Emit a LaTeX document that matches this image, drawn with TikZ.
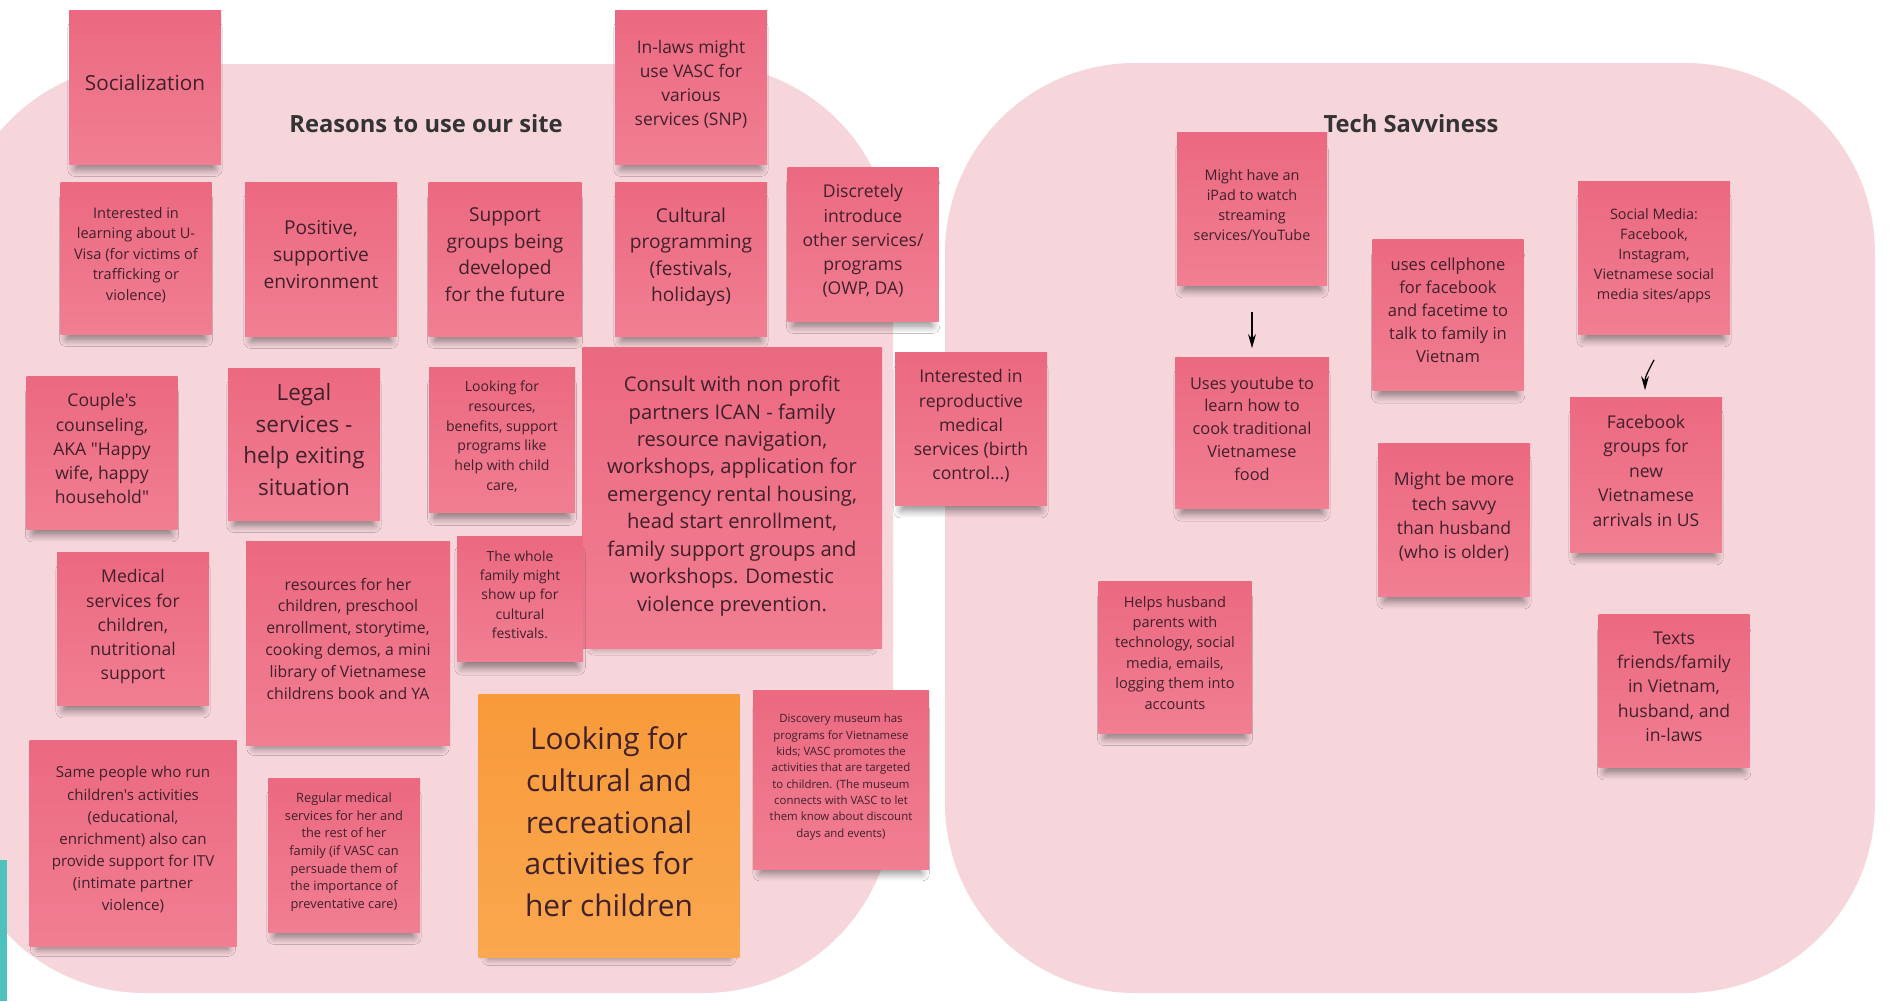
\documentclass[tikz,border=0pt]{standalone}
\usepackage{fontspec}
\setmainfont{Open Sans}[Ligatures=TeXOff]
\usetikzlibrary{calc,arrows.meta,shadows.blur}

\definecolor{boardpink}{HTML}{F6D6DB}
\definecolor{notetop}{HTML}{EB6981}
\definecolor{notebot}{HTML}{F17E92}
\definecolor{orangetop}{HTML}{F89A3A}
\definecolor{orangebot}{HTML}{FAA74F}
\definecolor{notetext}{HTML}{40202A}
\definecolor{titlegray}{HTML}{333333}
\definecolor{sidebar}{HTML}{4FC1BC}

\begin{document}
\begin{tikzpicture}[
    x=0.2mm, y=-0.2mm,
    note/.style={rectangle, inner sep=0pt, align=center, text=notetext, text depth=5pt,
        top color=notetop, bottom color=notebot,
        blur shadow={shadow xshift=0pt, shadow yshift=-7pt, shadow scale=0.92,
            shadow opacity=45, shadow blur radius=4.5pt, shadow blur steps=8}},
    orangenote/.style={note, top color=orangetop, bottom color=orangebot},
    wh/.style 2 args={minimum width=#1*0.2mm, minimum height=#2*0.2mm},
    fs/.style 2 args={font=\fontsize{#1}{#2}\selectfont},
    title/.style={font=\fontsize{13.5}{16}\selectfont\bfseries, text=titlegray},
    link/.style={->, line width=0.7pt, black},
    >={Stealth[length=8pt, width=4.5pt]}
]
\useasboundingbox (0,0) rectangle (1902,1001);
\fill[white] (0,0) rectangle (1902,1001);

% Boards
\fill[boardpink, rounded corners=38mm] (-45,64) rectangle (893,993);
\fill[boardpink, rounded corners=38mm] (945,63) rectangle (1875,993);
\fill[sidebar] (0,860) rectangle (7,1001);

% Titles
\node[title] (reasons) at (426,124) {Reasons to use our site};
\node[title] (tech) at (1411,124) {Tech Savviness};

% Reasons to use our site
\node[note, wh={152}{154}, fs={11.8}{16}] (socialization) at (145,87) {Socialization};
\node[note, wh={152}{154}, fs={9.9}{13.7}] (inlaws) at (691,87) {In-laws might\\use VASC for\\various\\services (SNP)};

\node[note, wh={151}{152}, fs={8.3}{11.7}] (uvisa) at (136,258) {Interested in\\learning about U-\\Visa (for victims of\\trafficking or\\violence)};
\node[note, wh={152}{154}, fs={10.9}{15.2}] (positive) at (321,259) {Positive,\\supportive\\environment};
\node[note, wh={153}{154}, fs={10.9}{15.2}] (support) at (505,259) {Support\\groups being\\developed\\for the future};
\node[note, wh={152}{154}, fs={10.9}{15}] (cultural) at (691,259) {Cultural\\programming\\(festivals,\\holidays)};
\node[note, wh={151}{154}, fs={10}{13.8}] (discrete) at (863,244) {Discretely\\introduce\\other services/\\programs\\(OWP, DA)};

\node[note, wh={151}{153}, fs={10}{13.8}] (couple) at (102,453) {Couple's\\counseling,\\AKA "Happy\\wife, happy\\household"};
\node[note, wh={152}{152}, fs={12.8}{18}] (legal) at (304,444) {Legal\\services -\\help exiting\\situation};
\node[note, wh={146}{145}, fs={8}{11.3}] (resources) at (502,440) {Looking for\\resources,\\benefits, support\\programs like\\help with child\\care,};
\node[note, wh={300}{301}, fs={11.5}{15.6}] (consult) at (732,498) {Consult with non profit\\partners ICAN - family\\resource navigation,\\workshops, application for\\emergency rental housing,\\head start enrollment,\\family support groups and\\workshops. Domestic\\violence prevention.};
\node[note, wh={152}{153}, fs={10}{13.8}] (repro) at (971,429) {Interested in\\reproductive\\medical\\services (birth\\control...)};

\node[note, wh={152}{153}, fs={10}{13.8}] (medical) at (133,629) {Medical\\services for\\children,\\nutritional\\support};
\node[note, wh={204}{204}, fs={9}{12.4}] (childres) at (348,643) {resources for her\\children, preschool\\enrollment, storytime,\\cooking demos, a mini\\library of Vietnamese\\childrens book and YA};
\node[note, wh={126}{125}, fs={7.9}{11}] (wholefam) at (520,599) {The whole\\family might\\show up for\\cultural\\festivals.};

\node[note, wh={207}{206}, fs={8.6}{12.6}] (samepeople) at (133,843) {Same people who run\\children's activities\\(educational,\\enrichment) also can\\provide support for ITV\\(intimate partner\\violence)};
\node[note, wh={152}{154}, fs={7.3}{10.1}] (regular) at (344,855) {Regular medical\\services for her and\\the rest of her\\family (if VASC can\\persuade them of\\the importance of\\preventative care)};
\node[orangenote, wh={261}{263}, fs={17}{23.7}] (recreation) at (609,826) {Looking for\\cultural and\\recreational\\activities for\\her children};
\node[note, wh={176}{179}, fs={6.5}{9.3}] (discovery) at (841,780) {Discovery museum has\\programs for Vietnamese\\kids; VASC promotes the\\activities that are targeted\\to children. (The museum\\connects with VASC to let\\them know about discount\\days and events)};

% Tech Savviness
\node[note, wh={150}{153}, fs={8.2}{11.4}] (ipad) at (1252,209) {Might have an\\iPad to watch\\streaming\\services/YouTube};
\node[note, wh={154}{151}, fs={9.3}{13}] (youtube) at (1252,433) {Uses youtube to\\learn how to\\cook traditional\\Vietnamese\\food};
\node[note, wh={151}{151}, fs={9.4}{13.1}] (cellphone) at (1448,315) {uses cellphone\\for facebook\\and facetime to\\talk to family in\\Vietnam};
\node[note, wh={152}{153}, fs={8.2}{11.4}] (socialmedia) at (1654,258) {Social Media:\\Facebook,\\Instagram,\\Vietnamese social\\media sites/apps};
\node[note, wh={152}{155}, fs={10}{13.9}] (fbgroups) at (1646,475) {Facebook\\groups for\\new\\Vietnamese\\arrivals in US};
\node[note, wh={152}{153}, fs={10}{13.8}] (savvy) at (1454,520) {Might be more\\tech savvy\\than husband\\(who is older)};
\node[note, wh={153}{152}, fs={8.3}{11.6}] (helps) at (1175,657) {Helps husband\\parents with\\technology, social\\media, emails,\\logging them into\\accounts};
\node[note, wh={151}{153}, fs={10}{13.9}] (texts) at (1674,691) {Texts\\friends/family\\in Vietnam,\\husband, and\\in-laws};

% Connections
\draw[link, shorten <=5.2mm, shorten >=1.8mm] (ipad) -- (youtube);
\draw[link] ($(socialmedia.south)+(0,25)$) .. controls +(-6,12) and +(0,-14) .. ($(fbgroups.north)+(-1,-7)$);
\end{tikzpicture}
\end{document}
